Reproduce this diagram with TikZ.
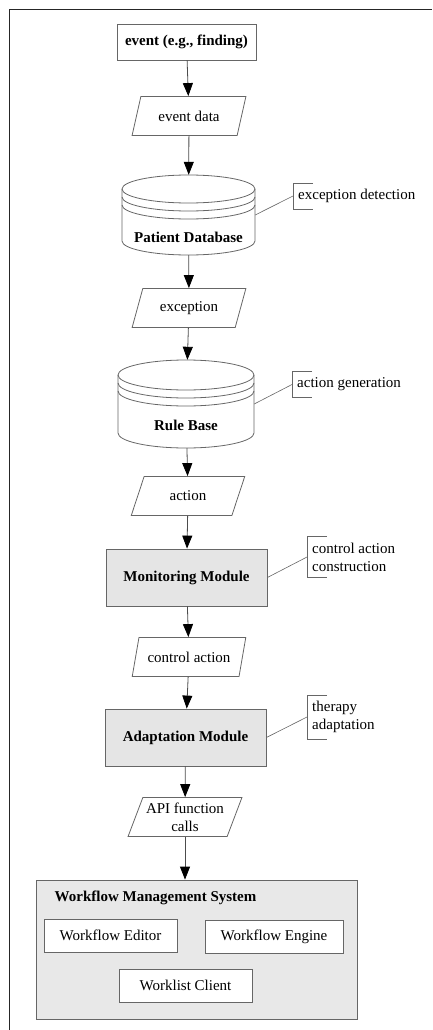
\documentclass[tikz,border=0pt]{standalone}
\usepackage{fontspec}
\setmainfont{Liberation Serif}
\usetikzlibrary{arrows.meta,shapes.geometric}

\tikzset{
  flowline/.style={draw=black!70, line width=0.8pt},
  flowarrow/.style={flowline, -{Triangle[length=13pt,width=10pt,color=black]}},
  noteline/.style={draw=black!60, line width=0.6pt},
  eventbox/.style={draw=black!60, line width=0.8pt, minimum width=139pt, minimum height=36pt, font=\bfseries},
  procbox/.style={draw=black!60, line width=0.8pt, fill=black!10, minimum width=161pt, minimum height=57pt, font=\bfseries},
  databox/.style={trapezium, trapezium left angle=66, trapezium right angle=114, trapezium stretches=true,
    draw=black!60, line width=0.8pt, minimum width=114pt, minimum height=39pt, inner xsep=0pt, inner ysep=1pt, align=center},
  dbarea/.style={minimum width=133pt, minimum height=80pt, inner sep=0pt},
  dbline/.style={draw=black!60, line width=0.8pt},
  notebox/.style={anchor=west, inner xsep=5pt, inner ysep=6pt, align=left},
  subbox/.style={draw=black!60, line width=0.8pt, fill=white, minimum height=33pt},
}

\begin{document}
\fontsize{15}{18}\selectfont
\begin{tikzpicture}[x=1pt,y=-1pt]
\useasboundingbox (0,0) rectangle (432,1030);

% --- CORNICE ---
\draw[line width=1.4pt, black!85] (9.5,1030) -- (9.5,9.5) -- (432,9.5);

% --- EVENTO ---
\node[eventbox] (event) at (186.5,42) {event (e.g., finding)};
\node[databox] (evdata) at (189,116) {event data};

% --- PATIENT DATABASE ---
\node[dbarea] (pdb) at (188.5,215) {};
\draw[dbline] (122,189) -- (122,241) arc[start angle=180, end angle=0, x radius=66.5, y radius=14] -- (255,189);
\draw[dbline] (188.5,189) ellipse[x radius=66.5, y radius=14];
\foreach \d in {8,16} {
    \draw[dbline] (122,189+\d) arc[start angle=180, end angle=0, x radius=66.5, y radius=14];
}
\node[font=\bfseries] (pdblabel) at (188.5,237) {Patient Database};

\node[databox] (exc) at (189,308) {exception};

% --- RULE BASE ---
\node[dbarea, minimum width=136pt, minimum height=88pt] (rb) at (186,404) {};
\draw[dbline] (118,375) -- (118,433) arc[start angle=180, end angle=0, x radius=68, y radius=15] -- (254,375);
\draw[dbline] (186,375) ellipse[x radius=68, y radius=15];
\foreach \d in {8,16} {
    \draw[dbline] (118,375+\d) arc[start angle=180, end angle=0, x radius=68, y radius=15];
}
\node[font=\bfseries] (rblabel) at (186,425) {Rule Base};

\node[databox] (act) at (188,496) {action};

% --- MODULI ---
\node[procbox] (mm) at (186.5,577.5) {Monitoring Module};
\node[databox] (ctl) at (189,657) {control action};
\node[procbox] (am) at (185.5,737.5) {Adaptation Module};
\node[databox] (api) at (185,817) {API function\\calls};

% --- WORKFLOW MANAGEMENT SYSTEM ---
\node[draw=black!60, line width=0.8pt, fill=black!9, minimum width=321pt, minimum height=139pt] (wfms) at (196.5,949.5) {};
\node[font=\bfseries, anchor=west] (wftitle) at (49.5,898) {Workflow Management System};
\node[subbox, minimum width=133pt] (wfedit) at (110.5,935.5) {Workflow Editor};
\node[subbox, minimum width=138pt] (wfeng) at (274,937) {Workflow Engine};
\node[subbox, minimum width=133pt] (wlc) at (185.5,985.5) {Worklist Client};

% --- FRECCE ---
\draw[flowarrow] (event) -- (evdata);
\draw[flowarrow] (evdata) -- (pdb);
\draw[flowarrow] (pdb) -- (exc);
\draw[flowarrow] (exc) -- (rb);
\draw[flowarrow] (rb) -- (act);
\draw[flowarrow] (act) -- (mm);
\draw[flowarrow] (mm) -- (ctl);
\draw[flowarrow] (ctl) -- (am);
\draw[flowarrow] (am) -- (api);
\draw[flowarrow] (api.south) -- (api.south |- wfms.north);

% --- ANNOTAZIONI ---
\node[notebox] (exdet) at (293,196) {exception detection};
\node[notebox] (acgen) at (292,384.5) {action generation};
\node[notebox] (ctcon) at (307,557) {control action\\construction};
\node[notebox] (thad) at (307,717) {therapy\\adaptation};

\foreach \n in {exdet,acgen,ctcon,thad} {
    \draw[noteline] ([xshift=20pt]\n.north west) -- (\n.north west) -- (\n.south west) -- ([xshift=20pt]\n.south west);
}
\draw[noteline] (pdb.east) -- (exdet.west);
\draw[noteline] (rb.east) -- (acgen.west);
\draw[noteline] (mm.east) -- (ctcon.west);
\draw[noteline] (am.east) -- (thad.west);

\end{tikzpicture}
\end{document}
